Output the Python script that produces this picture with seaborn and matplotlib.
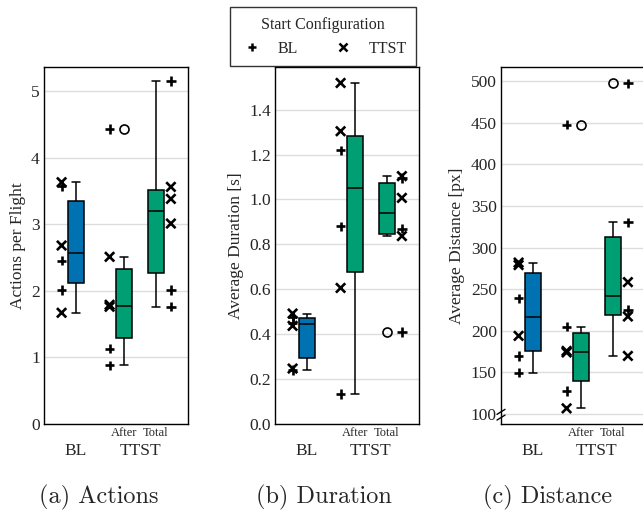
import pandas as pd
import matplotlib
matplotlib.use("Agg")
import matplotlib.pyplot as plt
from matplotlib.lines import Line2D
from matplotlib.ticker import FormatStrFormatter
import seaborn as sns

# ===================== DATA =====================
groups    = ["BL", "After", "Total"]
positions = [0.0, 1.0, 5 / 3]
starts    = ["BL", "TTST"]

# values per group, split by start configuration (+ = BL start, x = TTST start)
actions_bl    = {"BL": [3.57, 2.45, 2.01], "TTST": [3.63, 2.68, 1.67]}
actions_after = {"BL": [4.43, 1.13, 0.88], "TTST": [2.51, 1.79, 1.76]}
actions_total = {"BL": [5.15, 2.01, 1.76], "TTST": [3.56, 3.38, 3.01]}

duration_bl    = {"BL": [0.478, 0.452, 0.241], "TTST": [0.492, 0.437, 0.247]}
duration_after = {"BL": [1.219, 0.881, 0.133], "TTST": [1.519, 1.304, 0.606]}
duration_total = {"BL": [1.095, 0.870, 0.410], "TTST": [1.104, 1.007, 0.837]}

distance_bl    = {"BL": [239.2, 169.8, 149.7], "TTST": [282.0, 279.0, 193.9]}
distance_after = {"BL": [447.8, 205.1, 127.7], "TTST": [175.8, 174.0, 106.8]}
distance_total = {"BL": [497.2, 330.3, 225.2], "TTST": [258.5, 217.2, 169.8]}

panels = [
    ("Actions per Flight",   [actions_bl, actions_after, actions_total],    (0, 5.36),
     [0, 1, 2, 3, 4, 5], "(a) Actions"),
    ("Average Duration [s]", [duration_bl, duration_after, duration_total], (0, 1.59),
     [0.0, 0.2, 0.4, 0.6, 0.8, 1.0, 1.2, 1.4], "(b) Duration"),
    ("Average Distance [px]", [distance_bl, distance_after, distance_total], (88, 517),
     [100, 150, 200, 250, 300, 350, 400, 450, 500], "(c) Distance"),
]

palette   = {"BL": "#0072b2", "After": "#009e73", "Total": "#009e73"}
side      = {"BL": -0.30, "After": -0.30, "Total": 0.31}
markers   = {"BL": "+", "TTST": "x"}

# ===================== STYLE =====================
sns.set_style("white")
plt.rcParams["font.family"] = ["Liberation Serif", "DejaVu Serif"]
plt.rcParams["axes.edgecolor"] = "black"
plt.rcParams["axes.linewidth"] = 1.0


def to_frame(group_data):
    rows = []
    for g, p, d in zip(groups, positions, group_data):
        for s in starts:
            for v in d[s]:
                rows.append({"group": g, "pos": p, "start": s, "value": v,
                             "xpt": p + side[g]})
    return pd.DataFrame(rows)


fig = plt.figure(figsize=(6.43, 5.11), dpi=100)
W, H = 643, 511
lefts    = [44, 275, 501]
cap_xs   = [99, 324, 548]

for i, (ylabel, gdata, ylim, yticks, caption) in enumerate(panels):
    ax = fig.add_axes([lefts[i] / W, 1 - 424 / H, 144 / W, 357 / H])
    df = to_frame(gdata)

    sns.boxplot(data=df, x="pos", y="value", hue="group", hue_order=groups,
                palette=palette, saturation=1, native_scale=True, width=0.5,
                dodge=False, linecolor="black", linewidth=1.1, legend=False,
                flierprops=dict(marker="o", markerfacecolor="none",
                                markeredgecolor="black", markeredgewidth=1.2,
                                markersize=6.5),
                ax=ax, zorder=2)
    sns.scatterplot(data=df, x="xpt", y="value", style="start", markers=markers,
                    color="black", s=45, linewidth=1.9, legend=False, ax=ax,
                    zorder=3)

    ax.set_xlim(-2 / 3, 7 / 3)
    ax.set_ylim(*ylim)
    ax.set_yticks(yticks)
    if i == 1:
        ax.yaxis.set_major_formatter(FormatStrFormatter("%.1f"))
    ax.yaxis.grid(True, color="#dddddd", linewidth=1.0, zorder=0)
    ax.set_axisbelow(True)
    ax.set_xticks([])
    ax.set_xlabel("")
    ax.set_ylabel(ylabel, fontsize=12.5, labelpad=4)
    ax.tick_params(axis="y", length=0, labelsize=12.5, pad=3)
    for sp in ax.spines.values():
        sp.set_visible(True)
        sp.set_color("black")
        sp.set_linewidth(1.0)

    # category labels under the axis
    for g, p in zip(["After", "Total"], positions[1:]):
        ax.annotate(g, xy=(p, 0), xycoords=("data", "axes fraction"),
                    xytext=(0, -9), textcoords="offset pixels",
                    ha="center", va="center", fontsize=9)
    ax.annotate("BL", xy=(positions[0], 0), xycoords=("data", "axes fraction"),
                xytext=(0, -27), textcoords="offset pixels",
                ha="center", va="center", fontsize=12.5)
    ax.annotate("TTST", xy=((positions[1] + positions[2]) / 2, 0),
                xycoords=("data", "axes fraction"),
                xytext=(0, -27), textcoords="offset pixels",
                ha="center", va="center", fontsize=12.5)

    # sub-figure caption
    fig.text(cap_xs[i] / W, 1 - 497 / H, caption, ha="center", va="center",
             fontsize=17.5, family="cmr10")

    if i == 2:
        # axis break marks
        for yb in (0.018, 0.034):
            ax.plot([-0.028, 0.028], [yb - 0.007, yb + 0.007], color="black",
                    linewidth=1.0, transform=ax.transAxes, clip_on=False, zorder=5)

handles = [Line2D([], [], linestyle="none", marker=markers[s], color="black",
                  markersize=6, markeredgewidth=1.8) for s in starts]
leg = fig.legend(handles, starts, title="Start Configuration", ncol=2,
                 loc="upper center", bbox_to_anchor=(323 / W, 1 - 7 / H),
                 borderaxespad=0, fontsize=11.5, title_fontsize=11.5,
                 frameon=True, fancybox=False, edgecolor="black",
                 handlelength=1.6, handletextpad=0.8, columnspacing=2.0,
                 borderpad=0.6)
leg.get_frame().set_linewidth(1.0)

fig.savefig("out.png", dpi=100)
